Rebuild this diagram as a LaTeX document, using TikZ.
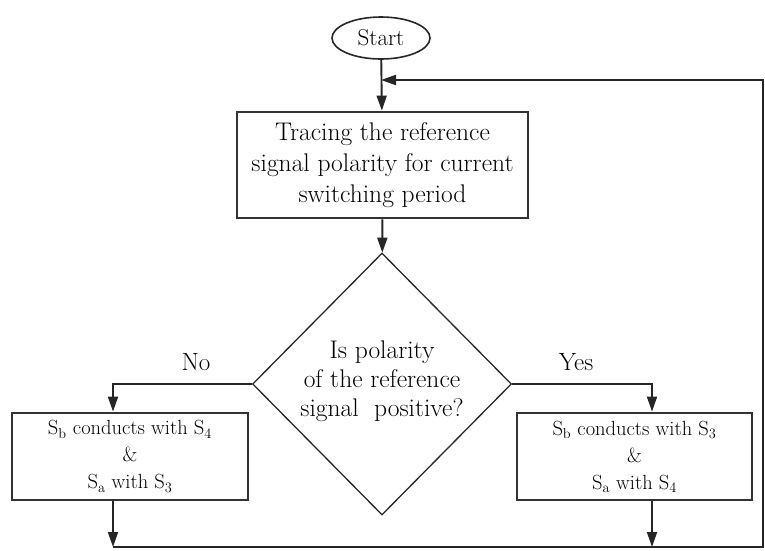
\documentclass[tikz,border=0pt]{standalone}
\usepackage{fontspec}
\usetikzlibrary{shapes.geometric,arrows.meta}
\begin{document}
\begin{tikzpicture}[x=1pt,y=-1pt,
  line/.style={line width=1.9pt, draw=black!85},
  arr/.style={line, -{Triangle[length=15pt,width=10pt]}},
  box/.style={draw=black!80, line width=2.8pt, align=center, inner sep=0pt},
  txt/.style={font=\fontsize{25.5}{31}\selectfont},
  stxt/.style={font=\fontsize{20.5}{27}\selectfont}]
\useasboundingbox (0,0) rectangle (765,550);
\node[ellipse, draw=black!85, line width=1.6pt, minimum width=98pt, minimum height=42pt, inner sep=0pt, font=\fontsize{23}{28}\selectfont] (start) at (381,38) {Start};
\node[box, txt, minimum width=291pt, minimum height=106pt] (trace) at (382.5,165) {Tracing the reference\\signal polarity for current\\switching period};
\node[diamond, draw=black!85, line width=1.3pt, minimum width=259pt, minimum height=262pt, inner sep=0pt] (dec) at (382,384) {};
\node[align=center, font=\fontsize{25.5}{29}\selectfont] (dectext) at (382,381) {Is polarity\\of the reference\\signal\ \ positive?};
\node[box, stxt, minimum width=236pt, minimum height=87pt] (left) at (130,456.5) {S\textsubscript{b} conducts with S\textsubscript{4}\\\&\\S\textsubscript{a} with S\textsubscript{3}};
\node[box, stxt, minimum width=235pt, minimum height=87pt] (right) at (634.5,456.5) {S\textsubscript{b} conducts with S\textsubscript{3}\\\&\\S\textsubscript{a} with S\textsubscript{4}};
\node[font=\fontsize{25}{30}\selectfont] (no) at (196,362) {No};
\node[font=\fontsize{25}{30}\selectfont] (yes) at (576,362) {Yes};
\coordinate (bl) at (113,547);
\coordinate (br) at (652,547);
\coordinate (cbr) at (763,547);
\coordinate (ctr) at (763,80);
\coordinate (loopin) at (381,80);
\draw[arr] (start) -- (trace);
\draw[arr] (trace) -- (dec);
\draw[arr] (dec.west) -| ([xshift=-17pt]left.north);
\draw[arr] (dec.east) -| ([xshift=17.5pt]right.north);
\draw[arr] ([xshift=-17pt]left.south) -- (bl);
\draw[arr] ([xshift=17.5pt]right.south) -- (br);
\draw[arr] (bl) -- (cbr) -- (ctr) -- (loopin);
\end{tikzpicture}
\end{document}
